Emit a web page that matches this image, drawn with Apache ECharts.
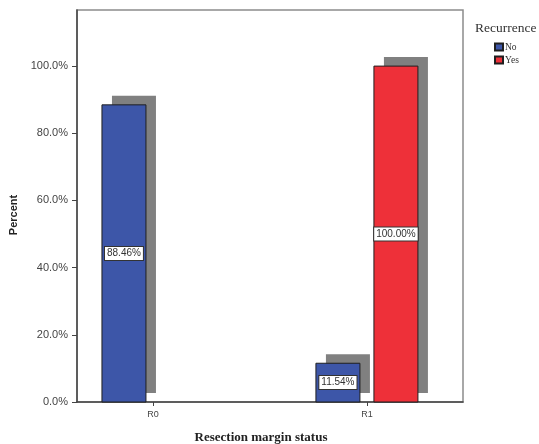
<!DOCTYPE html>
<html>
<head>
<meta charset="utf-8">
<script src="https://cdn.jsdelivr.net/npm/echarts@6/dist/echarts.min.js"></script>
<style>
  html, body { margin: 0; padding: 0; background: #fff; }
  #chart { width: 539px; height: 444px; }
</style>
</head>
<body>
<div id="chart"></div>
<script>
// Resection margin status vs recurrence (percent within each group)
const categories = ['R0', 'R1'];
const seriesNames = ['No', 'Yes'];
const noValues = [88.46, 11.54];
const yesValues = [0, 100];
const yTicks = [0, 20, 40, 60, 80, 100];

const colors = { No: '#3d56a8', Yes: '#ee3039' };
const BAR_W = 44;        // bar width in px
const BAR_OFFSET = 29;   // distance of each bar centre from the category tick
const SHADOW_DX = 10;    // drop-shadow offset
const SHADOW_DY = -9;

// Bar with an offset grey block behind it and a boxed value label in the middle
function makeRenderer(side, fill) {
  return function (params, api) {
    const v = api.value(1);
    if (!v) return null;
    const top = api.coord([api.value(0), v]);
    const base = api.coord([api.value(0), 0]);
    const x = top[0] + side * BAR_OFFSET - BAR_W / 2;
    const h = base[1] - top[1];
    return {
      type: 'group',
      children: [
        {
          type: 'rect',
          shape: { x: x + SHADOW_DX, y: top[1] + SHADOW_DY, width: BAR_W, height: h },
          style: { fill: '#808080' }
        },
        {
          type: 'rect',
          shape: { x: x, y: top[1], width: BAR_W, height: h },
          style: { fill: fill, stroke: '#1f1f1f', lineWidth: 1 },
          textContent: {
            style: {
              text: v.toFixed(2) + '%',
              fill: '#333',
              fontFamily: 'Liberation Sans, Arial, sans-serif',
              fontSize: 10,
              backgroundColor: '#fff',
              borderColor: '#333',
              borderWidth: 1,
              padding: [2, 2, 1, 2]
            }
          },
          textConfig: { position: 'inside' }
        }
      ]
    };
  };
}

function barSeries(name, values, side) {
  return {
    name: name,
    type: 'custom',
    renderItem: makeRenderer(side, colors[name]),
    data: values.map((v, i) => [i, v]),
    encode: { x: 0, y: 1 },
    itemStyle: { color: colors[name], borderColor: '#1f1f1f', borderWidth: 1 },
    emphasis: { disabled: true },
    silent: true
  };
}

const chart = echarts.init(document.getElementById('chart'), null, { renderer: 'canvas' });

chart.setOption({
  animation: false,
  backgroundColor: '#fff',
  title: {
    text: 'Recurrence',
    left: 470,
    top: 16,
    textStyle: {
      fontFamily: 'Liberation Serif, Times New Roman, serif',
      fontWeight: 'normal',
      fontSize: 13.5,
      color: '#333'
    }
  },
  legend: {
    data: seriesNames,
    orient: 'vertical',
    left: 489,
    top: 37,
    itemWidth: 8,
    itemHeight: 7,
    itemGap: 3,
    icon: 'rect',
    textStyle: {
      fontFamily: 'Liberation Serif, Times New Roman, serif',
      fontSize: 9.5,
      color: '#333',
      padding: [0, 0, 0, -3]
    }
  },
  grid: {
    left: 77,
    top: 10,
    right: 76,
    bottom: 42,
    outerBoundsMode: 'none',
    containLabel: false,
    show: true,
    borderColor: '#8c8c8c',
    borderWidth: 1.5
  },
  xAxis: {
    type: 'value',
    min: -0.355,
    max: 1.449,
    name: 'Resection margin status',
    nameLocation: 'middle',
    nameGap: 29,
    nameTextStyle: {
      fontFamily: 'Liberation Serif, Times New Roman, serif',
      fontWeight: 'bold',
      fontSize: 13,
      color: '#222',
      padding: [0, 18, 0, 0]
    },
    splitLine: { show: false },
    axisLine: { show: true, onZero: false, lineStyle: { color: '#444', width: 1.5 } },
    axisTick: {
      show: true,
      length: 4,
      customValues: [0, 1],
      lineStyle: { color: '#444' }
    },
    axisLabel: {
      customValues: [0, 1],
      formatter: v => categories[Math.round(v)],
      fontFamily: 'Liberation Sans, Arial, sans-serif',
      fontSize: 9,
      color: '#444',
      margin: 8
    }
  },
  yAxis: {
    type: 'value',
    min: 0,
    max: 116.7,
    name: 'Percent',
    nameLocation: 'middle',
    nameGap: 55,
    nameTextStyle: {
      fontFamily: 'Liberation Sans, Arial, sans-serif',
      fontWeight: 'bold',
      fontSize: 11,
      color: '#222',
      padding: [0, 18, 0, 0]
    },
    splitLine: { show: false },
    axisLine: { show: true, onZero: false, lineStyle: { color: '#444', width: 1.5 } },
    axisTick: {
      show: true,
      length: 5,
      customValues: yTicks,
      lineStyle: { color: '#444' }
    },
    axisLabel: {
      customValues: yTicks,
      formatter: v => v.toFixed(1) + '%',
      fontFamily: 'Liberation Sans, Arial, sans-serif',
      fontSize: 11,
      color: '#444',
      margin: 9
    }
  },
  series: [
    barSeries('No', noValues, -1),
    barSeries('Yes', yesValues, 1)
  ]
});
</script>
</body>
</html>
